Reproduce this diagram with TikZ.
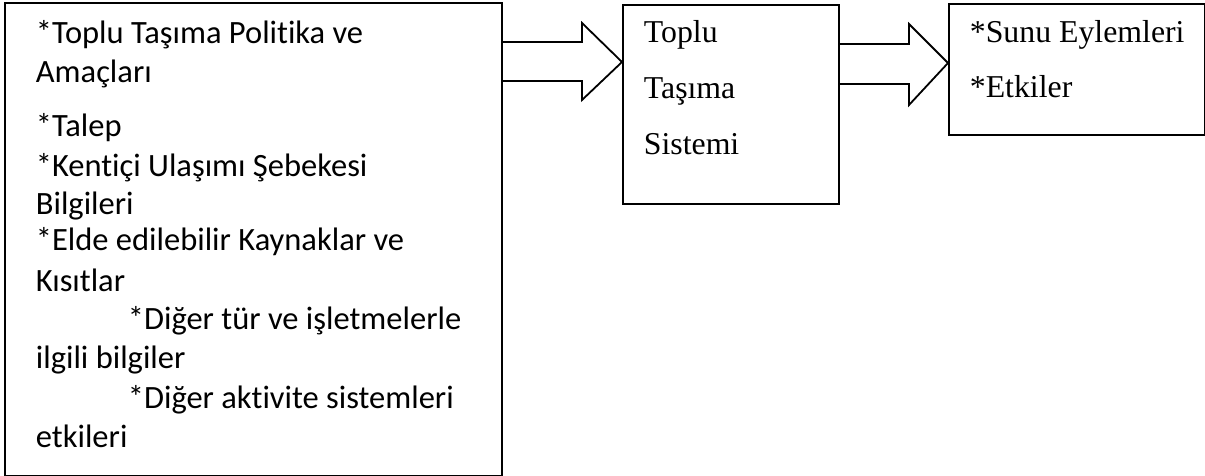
\documentclass[tikz,border=0pt]{standalone}
\usepackage{fontspec}
\setmainfont{Liberation Serif}
\newfontfamily\calibri[Ligatures=NoCommon]{Carlito}
\begin{document}
\begin{tikzpicture}[x=1pt,y=-1pt,line width=1.8pt,
  box/.style={draw,line join=miter,inner sep=0pt,anchor=north west},
  blockarrow/.style={draw,line join=miter},
  sans/.style={font=\calibri\fontsize{32.5}{38}\selectfont,anchor=base west,inner sep=0pt},
  serif/.style={font=\fontsize{31.8}{36}\selectfont,anchor=base west,inner sep=0pt}]
\useasboundingbox (0,0) rectangle (1205,476);

% the three boxes
\node[box,minimum width=497pt,minimum height=473pt] (src) at (4,2) {};
\node[box,minimum width=216pt,minimum height=199pt] (sys) at (622,4) {};
\node[box,minimum width=256pt,minimum height=131pt] (out) at (948,3) {};

% block arrows between the boxes
\draw[blockarrow] (src.east |- 0,42) -- (582,42) -- (582,23) -- (sys.west |- 0,62)
  -- (582,100) -- (582,81) -- (src.east |- 0,81);
\draw[blockarrow] (sys.east |- 0,44) -- (909,44) -- (909,24) -- (out.west |- 0,63)
  -- (909,105) -- (909,84) -- (sys.east |- 0,84);

% inputs
\node[sans] (l1) at (35,44) {*Toplu Taşıma Politika ve};
\node[sans] (l2) at (35,83) {Amaçları};
\node[sans] (l3) at (35,137) {*Talep};
\node[sans] (l4) at (35,176) {*Kentiçi Ulaşımı Şebekesi};
\node[sans] (l5) at (35,214) {Bilgileri};
\node[sans] (l6) at (35,250) {*Elde edilebilir Kaynaklar ve};
\node[sans] (l7) at (35,291) {Kısıtlar};
\node[sans] (l8) at (127,329) {*Diğer tür ve işletmelerle};
\node[sans] (l9) at (35,368) {ilgili bilgiler};
\node[sans] (l10) at (127,408) {*Diğer aktivite sistemleri};
\node[sans] (l11) at (35,447) {etkileri};

% system
\node[serif] (s1) at (643,43) {Toplu};
\node[serif] (s2) at (643,99) {Taşıma};
\node[serif] (s3) at (643,154) {Sistemi};

% outputs
\node[serif] (o1) at (969,43) {*Sunu Eylemleri};
\node[serif] (o2) at (969,98) {*Etkiler};
\end{tikzpicture}
\end{document}
